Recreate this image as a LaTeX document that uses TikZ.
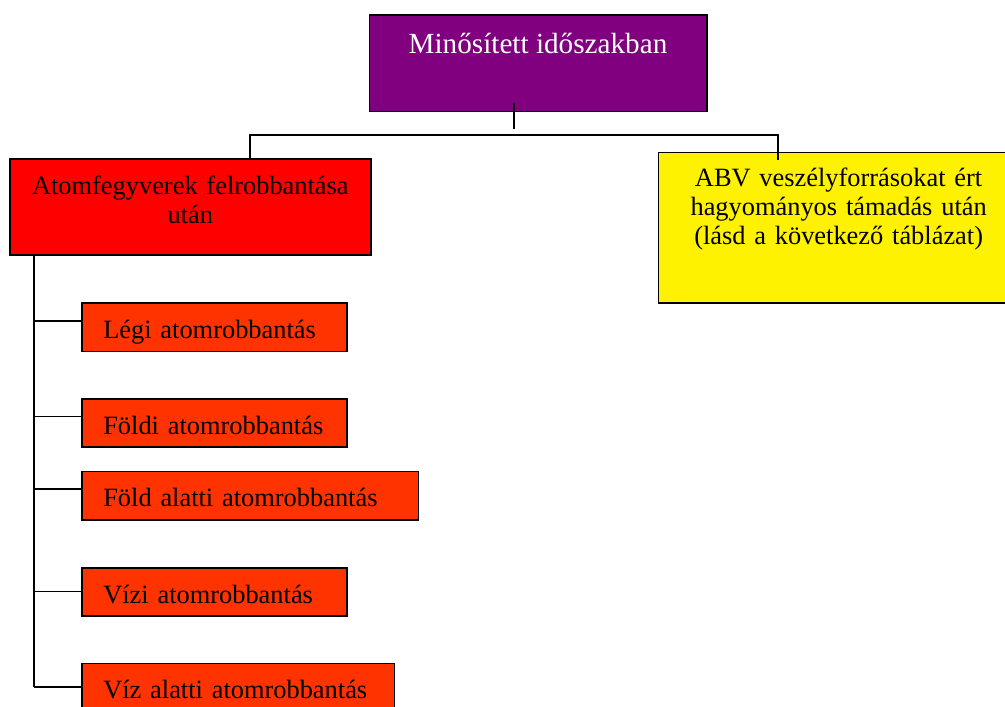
\documentclass[tikz,border=0pt]{standalone}
\usepackage{fontspec}
\setmainfont{Liberation Serif}
\usetikzlibrary{positioning,calc}

\definecolor{headpurple}{HTML}{800080}
\definecolor{leafred}{HTML}{FF3300}

\begin{document}
\begin{tikzpicture}[
    x=1pt, y=1pt,
    line width=1.6pt,
    headbox/.style={
        draw,
        fill=headpurple,
        text=white,
        font=\fontsize{29.2}{34}\selectfont,
        minimum width=337.4pt,
        minimum height=96.7pt,
        text height=22pt,
        text depth=42pt,
        inner sep=0pt,
        outer sep=0pt
    },
    branchbox/.style={
        draw,
        align=center,
        font=\fontsize{26.4}{29}\selectfont,
        text width=340.7pt,
        inner xsep=10pt,
        inner ysep=0pt,
        text height=20pt,
        outer sep=0pt
    },
    leafbox/.style={
        draw,
        fill=leafred,
        align=left,
        font=\fontsize{26.4}{29}\selectfont,
        text width=#1,
        inner xsep=21.6pt,
        inner ysep=0pt,
        minimum height=48.3pt,
        text height=22pt,
        text depth=0pt,
        outer sep=0pt
    },
    link/.style={
        draw,
        line width=1.6pt
    }
]

\useasboundingbox (0,0) rectangle (1005,-707);
\clip (0,0) rectangle (1005,-707);

% ------------------------------------------------------------------
% Top level and the two branches
% ------------------------------------------------------------------

\node[headbox] (period) at (538,-63.3)
    {Minősített időszakban};

\node[branchbox, fill=red, minimum height=96pt, text depth=44pt,
      below left=47.3pt and -1.4pt of period] (burst)
    {Atomfegyverek felrobbantása\\után};

\node[branchbox, fill=yellow, minimum height=150.6pt, text depth=102pt,
      below right=41pt and -48.4pt of period] (conventional)
    {ABV veszélyforrásokat ért\\
     hagyományos támadás után\\
     (lásd a következő táblázat)};

\coordinate (hub) at ($(period.south west)+(144.4,8.5)$);
\coordinate (burstin) at ($(burst.north west)+(240,0)$);
\coordinate (convin) at ($(conventional.north west)+(119.7,-7)$);

\draw[link] (hub) -- ++(0,-26);
\draw[link] (burstin) -- ++(0,24) -| (convin);

% ------------------------------------------------------------------
% Kinds of nuclear burst
% ------------------------------------------------------------------

\node[leafbox=221.8pt, below right=48.3pt and 71.7pt of burst.south west] (legi)
    {Légi atomrobbantás};

\node[leafbox=221.8pt, below=47.3pt of legi.south west, anchor=north west] (foldi)
    {Földi atomrobbantás};

\node[leafbox=293.4pt, below=24.4pt of foldi.south west, anchor=north west] (foldalatt)
    {Föld alatti atomrobbantás};

\node[leafbox=221.8pt, below=48pt of foldalatt.south west, anchor=north west] (vizi)
    {Vízi atomrobbantás};

\node[leafbox=269.4pt, below=47.3pt of vizi.south west, anchor=north west] (vizalatt)
    {Víz alatti atomrobbantás};

\coordinate (trunk) at ($(burst.south west)+(24,0)$);

\foreach \leaf/\drop in {legi/17.7, foldi/17.7, foldalatt/17.6, vizi/23.7, vizalatt/23.4} {
    \coordinate (\leaf-in) at ($(\leaf.north west)+(0,-\drop)$);
    \draw[link] (trunk |- \leaf-in) -- (\leaf-in);
}

\draw[link] (trunk) -- (trunk |- vizalatt-in);

\end{tikzpicture}
\end{document}
